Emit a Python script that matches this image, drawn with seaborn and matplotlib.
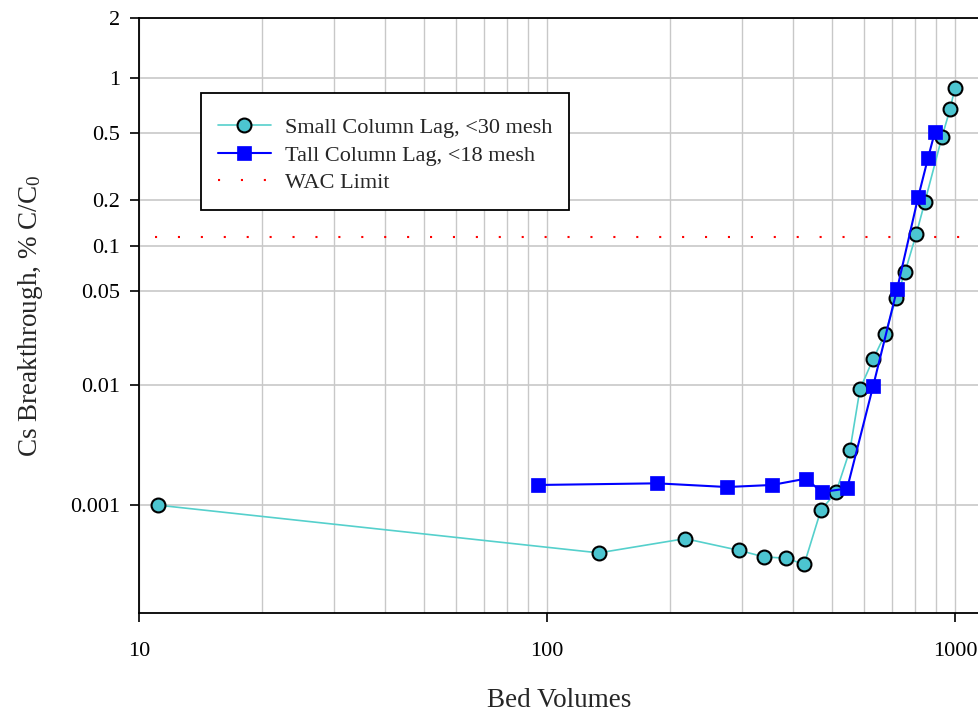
import math
import numpy as np
import matplotlib
matplotlib.use("Agg")
import matplotlib.pyplot as plt
from matplotlib.ticker import FixedLocator, FixedFormatter, NullLocator, LogLocator, NullFormatter
import seaborn as sns

# ---------------- data ----------------
small_bv = [11.1, 134, 218, 296, 340, 385, 427, 469, 511, 553, 585, 630, 674, 717, 754, 803, 844, 929, 972, 1000]
small_cs = [0.001, 0.00037, 0.0005, 0.00039, 0.00034, 0.00033, 0.00029, 0.0009, 0.0013, 0.003,
            0.0093, 0.0158, 0.0243, 0.044, 0.067, 0.12, 0.195, 0.476, 0.68, 0.89]

tall_bv = [95.1, 186, 276, 356, 431, 472, 544, 630, 721, 812, 859, 893]
tall_cs = [0.0015, 0.00155, 0.00144, 0.0015, 0.0017, 0.0013, 0.0014, 0.0098, 0.051, 0.207, 0.36, 0.51]

wac_limit = 0.115

series_labels = ["Small Column Lag, <30 mesh", "Tall Column Lag, <18 mesh", "WAC Limit"]
y_ticks = [0.001, 0.01, 0.05, 0.1, 0.2, 0.5, 1, 2]
y_tick_labels = ["0.001", "0.01", "0.05", "0.1", "0.2", "0.5", "1", "2"]
x_ticks = [10, 100, 1000]
x_tick_labels = ["10", "100", "1000"]

# ---------------- probability (probit) scale ----------------
_a = [-3.969683028665376e+01, 2.209460984245205e+02, -2.759285104469687e+02,
      1.383577518672690e+02, -3.066479806614716e+01, 2.506628277459239e+00]
_b = [-5.447609879822406e+01, 1.615858368580409e+02, -1.556989798598866e+02,
      6.680131188771972e+01, -1.328068155288572e+01]
_c = [-7.784894002430293e-03, -3.223964580411365e-01, -2.400758277161838e+00,
      -2.549732539343734e+00, 4.374664141464968e+00, 2.938163982698783e+00]
_d = [7.784695709041462e-03, 3.224671290700398e-01, 2.445134137142996e+00,
      3.754408661907416e+00]
_erfc = np.vectorize(math.erfc, otypes=[float])


def _ppf(p):
    p = np.clip(np.asarray(p, dtype=float), 1e-300, 1 - 1e-16)
    x = np.zeros_like(p)
    plow = 0.02425
    lo = p < plow
    hi = p > 1 - plow
    mid = ~(lo | hi)
    if np.any(lo):
        q = np.sqrt(-2 * np.log(p[lo]))
        x[lo] = (((((_c[0]*q + _c[1])*q + _c[2])*q + _c[3])*q + _c[4])*q + _c[5]) / \
                ((((_d[0]*q + _d[1])*q + _d[2])*q + _d[3])*q + 1)
    if np.any(hi):
        q = np.sqrt(-2 * np.log(1 - p[hi]))
        x[hi] = -(((((_c[0]*q + _c[1])*q + _c[2])*q + _c[3])*q + _c[4])*q + _c[5]) / \
                ((((_d[0]*q + _d[1])*q + _d[2])*q + _d[3])*q + 1)
    if np.any(mid):
        q = p[mid] - 0.5
        r = q * q
        x[mid] = (((((_a[0]*r + _a[1])*r + _a[2])*r + _a[3])*r + _a[4])*r + _a[5]) * q / \
                 (((((_b[0]*r + _b[1])*r + _b[2])*r + _b[3])*r + _b[4])*r + 1)
    e = 0.5 * _erfc(-x / math.sqrt(2)) - p
    u = e * math.sqrt(2 * math.pi) * np.exp(np.minimum(x * x / 2, 700))
    x = x - u / (1 + x * u / 2)
    return x


def fwd(y):
    return _ppf(np.asarray(y, dtype=float) / 100.0)


def inv(z):
    return 100.0 * 0.5 * _erfc(-np.asarray(z, dtype=float) / math.sqrt(2))


# ---------------- style ----------------
sns.set_style("white")
plt.rcParams["font.family"] = ["Liberation Serif", "DejaVu Serif"]
plt.rcParams["mathtext.fontset"] = "custom"
plt.rcParams["mathtext.rm"] = "Liberation Serif"
plt.rcParams["mathtext.it"] = "Liberation Serif:italic"

fig = plt.figure(figsize=(9.79, 7.11), dpi=100)
ax = fig.add_axes([0.142, 0.1383, 0.858, 0.836])

sns.lineplot(x=small_bv, y=small_cs, ax=ax, estimator=None, sort=False,
             color="#55D0CC", linewidth=1.2, marker="o", markersize=10,
             markerfacecolor="#4CC5D0", markeredgecolor="black", markeredgewidth=1.5,
             label=series_labels[0], zorder=3)
sns.lineplot(x=tall_bv, y=tall_cs, ax=ax, estimator=None, sort=False,
             color="#0000FF", linewidth=1.5, marker="s", markersize=9.5,
             markerfacecolor="#0000FF", markeredgecolor="#0000FF", markeredgewidth=0.5,
             label=series_labels[1], zorder=4)
ax.axhline(wac_limit, xmin=0.019, color="#FF0000", linewidth=1.5,
           linestyle=(0, (1, 10)), label=series_labels[2], zorder=2)

ax.set_xscale("log")
ax.set_yscale("function", functions=(fwd, inv))
ax.set_xlim(10, 1145)
ax.set_ylim(0.0001, 2)

ax.yaxis.set_major_locator(FixedLocator(y_ticks))
ax.yaxis.set_major_formatter(FixedFormatter(y_tick_labels))
ax.yaxis.set_minor_locator(NullLocator())
ax.xaxis.set_major_locator(FixedLocator(x_ticks))
ax.xaxis.set_major_formatter(FixedFormatter(x_tick_labels))
ax.xaxis.set_minor_locator(LogLocator(base=10, subs=np.arange(2, 10)))
ax.xaxis.set_minor_formatter(NullFormatter())

ax.grid(True, which="major", axis="y", color="#C8C8C8", linewidth=1.2)
ax.grid(True, which="both", axis="x", color="#C8C8C8", linewidth=1.0)
ax.set_axisbelow(True)

ax.tick_params(axis="both", which="major", direction="out", length=6.5, width=1.2,
               color="black", labelsize=16, labelcolor="black",
               bottom=True, left=True, top=False, right=False)
ax.tick_params(axis="x", which="major", pad=14.5)
ax.tick_params(axis="y", which="major", pad=7)
ax.tick_params(axis="x", which="minor", length=0, bottom=False)

for side in ["left", "bottom", "top"]:
    ax.spines[side].set_visible(True)
    ax.spines[side].set_color("black")
    ax.spines[side].set_linewidth(1.3)
ax.spines["right"].set_visible(False)

ax.set_xlabel("Bed Volumes", fontsize=19.5, labelpad=19.5)
ax.set_ylabel("Cs Breakthrough, % C/C$\\mathregular{_0}$", fontsize=19.5, labelpad=18)

leg = ax.legend(loc="upper left", bbox_to_anchor=(0.0738, 0.8743), borderaxespad=0,
                frameon=True, fancybox=False, shadow=False, edgecolor="black", framealpha=1,
                fontsize=16, handlelength=2.39, handletextpad=0.63, labelspacing=0.31,
                borderpad=0.75, title=" ", title_fontsize=1)
leg.get_frame().set_linewidth(1.3)

fig.savefig("out.png", dpi=100)
